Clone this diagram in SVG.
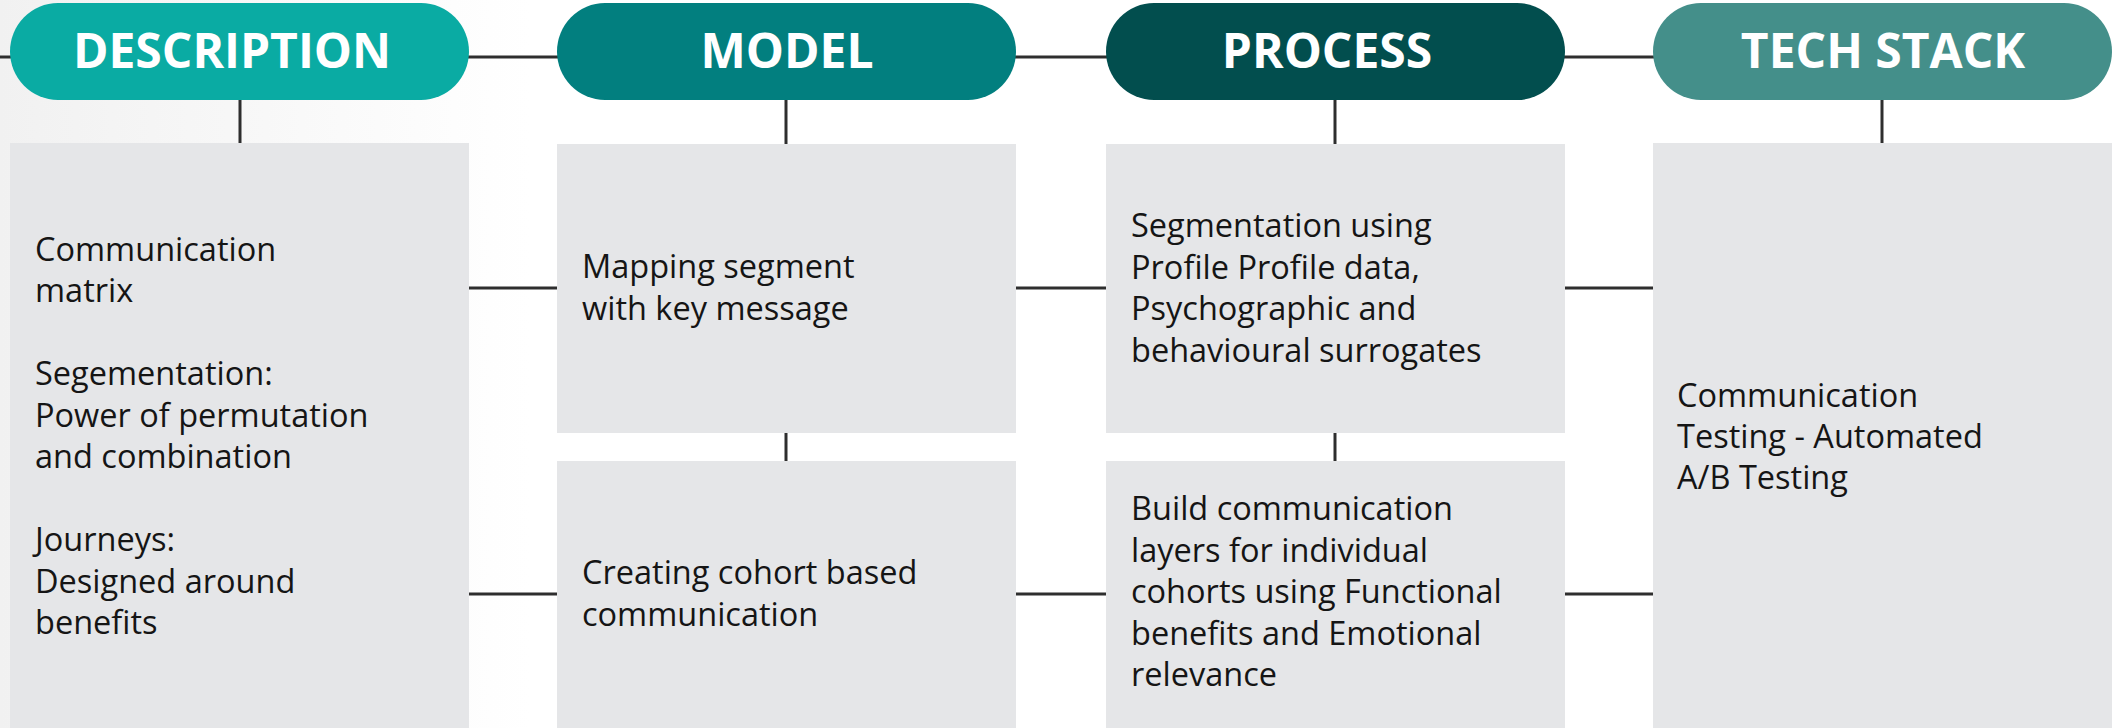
<svg xmlns="http://www.w3.org/2000/svg" width="2119" height="728" viewBox="0 0 2119 728">
  <defs>
    <linearGradient id="bgFade" x1="0" y1="0" x2="1" y2="0">
      <stop offset="0" stop-color="#f1f1f1"/>
      <stop offset="0.25" stop-color="#ffffff"/>
      <stop offset="1" stop-color="#ffffff"/>
    </linearGradient>
    <style>
      .pill-label { font-family: "Open Sans", "Liberation Sans", sans-serif; font-weight: 700; font-size: 48px; fill: #ffffff; text-anchor: middle; }
      .card { fill: #e5e6e8; }
      .body { font-family: "Open Sans", "Liberation Sans", sans-serif; font-weight: 400; font-size: 32.5px; fill: #151515; }
      .wire { stroke: #2e2e2e; stroke-width: 3; fill: none; }
    </style>
  </defs>

  <rect x="0" y="0" width="2119" height="728" fill="url(#bgFade)"/>

  <!-- connectors -->
  <g id="connectors">
    <!-- header rail -->
    <line class="wire" x1="0" y1="57" x2="12" y2="57"/>
    <line class="wire" x1="467" y1="57" x2="559" y2="57"/>
    <line class="wire" x1="1014" y1="57" x2="1108" y2="57"/>
    <line class="wire" x1="1563" y1="57" x2="1655" y2="57"/>
    <!-- header to card -->
    <line class="wire" x1="240" y1="100" x2="240" y2="143"/>
    <line class="wire" x1="786" y1="100" x2="786" y2="144"/>
    <line class="wire" x1="1335" y1="100" x2="1335" y2="144"/>
    <line class="wire" x1="1882" y1="100" x2="1882" y2="143"/>
    <!-- stacked cards -->
    <line class="wire" x1="786" y1="433" x2="786" y2="461"/>
    <line class="wire" x1="1335" y1="433" x2="1335" y2="461"/>
    <!-- card to card -->
    <line class="wire" x1="469" y1="288" x2="557" y2="288"/>
    <line class="wire" x1="1016" y1="288" x2="1106" y2="288"/>
    <line class="wire" x1="1565" y1="288" x2="1653" y2="288"/>
    <line class="wire" x1="469" y1="594" x2="557" y2="594"/>
    <line class="wire" x1="1016" y1="594" x2="1106" y2="594"/>
    <line class="wire" x1="1565" y1="594" x2="1653" y2="594"/>
  </g>

  <!-- column headers -->
  <g id="header-description">
    <rect x="10" y="3" width="459" height="97" rx="48" ry="48.5" fill="#0aaba3"/>
    <text class="pill-label" x="232" y="68">DESCRIPTION</text>
  </g>
  <g id="header-model">
    <rect x="557" y="3" width="459" height="97" rx="48" ry="48.5" fill="#027f7f"/>
    <text class="pill-label" x="787" y="68">MODEL</text>
  </g>
  <g id="header-process">
    <rect x="1106" y="3" width="459" height="97" rx="48" ry="48.5" fill="#024e4e"/>
    <text class="pill-label" x="1327" y="68">PROCESS</text>
  </g>
  <g id="header-tech-stack">
    <rect x="1653" y="3" width="459" height="97" rx="48" ry="48.5" fill="#448f8a"/>
    <text class="pill-label" x="1883" y="68">TECH STACK</text>
  </g>

  <!-- cards -->
  <g id="card-description">
    <rect class="card" x="10" y="143" width="459" height="585"/>
    <text class="body" x="35">
      <tspan x="35" y="260.5">Communication</tspan>
      <tspan x="35" y="302">matrix</tspan>
      <tspan x="35" y="385">Segementation:</tspan>
      <tspan x="35" y="426.5">Power of permutation</tspan>
      <tspan x="35" y="468">and combination</tspan>
      <tspan x="35" y="551">Journeys:</tspan>
      <tspan x="35" y="592.5">Designed around</tspan>
      <tspan x="35" y="634">benefits</tspan>
    </text>
  </g>

  <g id="card-model-mapping">
    <rect class="card" x="557" y="144" width="459" height="289"/>
    <text class="body">
      <tspan x="582" y="278">Mapping segment</tspan>
      <tspan x="582" y="320">with key message</tspan>
    </text>
  </g>

  <g id="card-model-cohort">
    <rect class="card" x="557" y="461" width="459" height="267"/>
    <text class="body">
      <tspan x="582" y="584">Creating cohort based</tspan>
      <tspan x="582" y="625.5">communication</tspan>
    </text>
  </g>

  <g id="card-process-segmentation">
    <rect class="card" x="1106" y="144" width="459" height="289"/>
    <text class="body">
      <tspan x="1131" y="237">Segmentation using</tspan>
      <tspan x="1131" y="278.5">Profile Profile data,</tspan>
      <tspan x="1131" y="320">Psychographic and</tspan>
      <tspan x="1131" y="361.5">behavioural surrogates</tspan>
    </text>
  </g>

  <g id="card-process-layers">
    <rect class="card" x="1106" y="461" width="459" height="267"/>
    <text class="body">
      <tspan x="1131" y="520">Build communication</tspan>
      <tspan x="1131" y="561.5">layers for individual</tspan>
      <tspan x="1131" y="603">cohorts using Functional</tspan>
      <tspan x="1131" y="644.5">benefits and Emotional</tspan>
      <tspan x="1131" y="686">relevance</tspan>
    </text>
  </g>

  <g id="card-tech-stack">
    <rect class="card" x="1653" y="143" width="459" height="585"/>
    <text class="body">
      <tspan x="1677" y="406.5">Communication</tspan>
      <tspan x="1677" y="447.5">Testing - Automated</tspan>
      <tspan x="1677" y="488.5">A/B Testing</tspan>
    </text>
  </g>
</svg>
